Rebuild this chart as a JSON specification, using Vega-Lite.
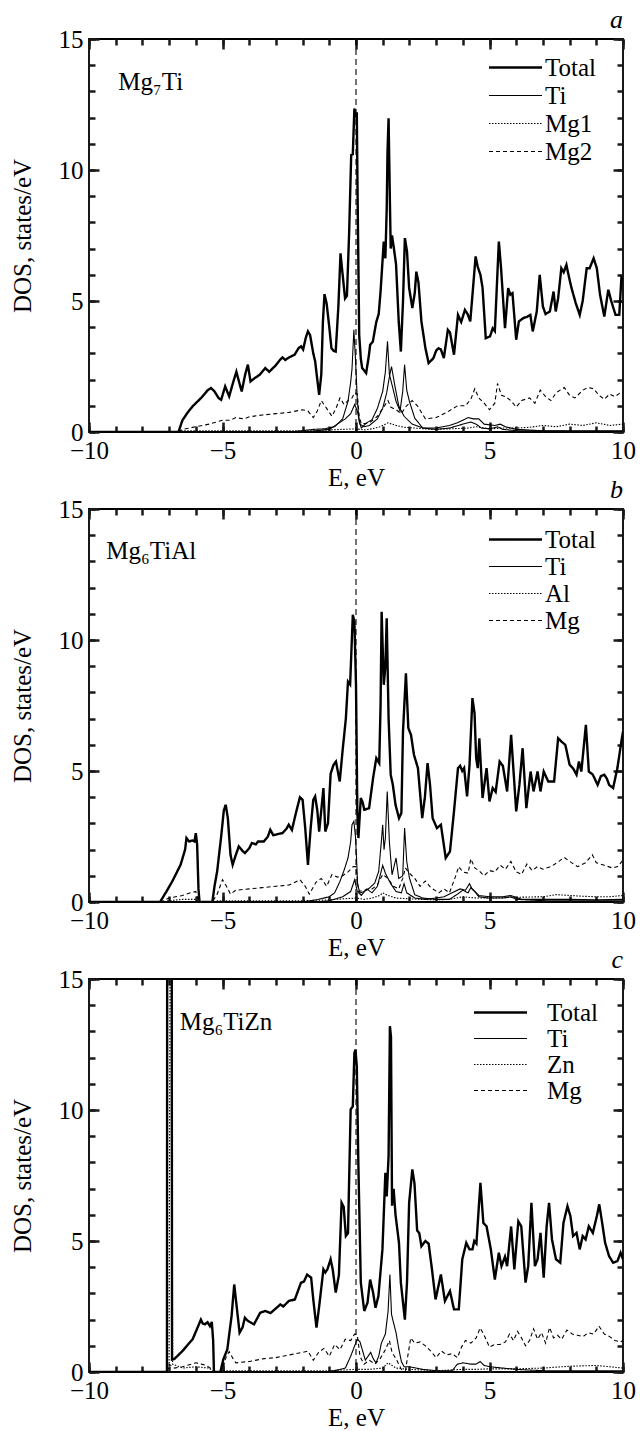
{
  "$schema": "https://vega.github.io/schema/vega-lite/v6.json",
  "padding": {"left": 9, "top": 6, "right": 0, "bottom": 0},
  "background": "white",
  "spacing": -15,
  "config": {
    "view": {"stroke": "black", "strokeWidth": 1.8},
    "font": "Liberation Serif",
    "legend": {"labelFont": "Liberation Serif", "labelColor": "black"},
    "axis": {"labelFont": "Liberation Serif", "titleFont": "Liberation Serif", "labelColor": "black", "titleColor": "black", "ticks": true, "tickColor": "#1a1a1a", "tickOpacity": 1, "tickWidth": 2.5, "domain": false, "grid": false}
  },
  "resolve": {"scale": {"strokeDash": "independent"}, "legend": {"strokeDash": "independent"}},
  "datasets": {
    "a": [
      {"series":"Total","E":-10,"DOS":0},{"series":"Total","E":-6.65,"DOS":0},{"series":"Total","E":-6.5,"DOS":0.45},{"series":"Total","E":-6.3,"DOS":0.75},{"series":"Total","E":-6.12,"DOS":0.98},{"series":"Total","E":-5.8,"DOS":1.3},{"series":"Total","E":-5.55,"DOS":1.6},{"series":"Total","E":-5.43,"DOS":1.68},{"series":"Total","E":-5.3,"DOS":1.55},{"series":"Total","E":-5.15,"DOS":1.3},{"series":"Total","E":-5.05,"DOS":1.23},{"series":"Total","E":-4.9,"DOS":1.74},{"series":"Total","E":-4.75,"DOS":1.36},{"series":"Total","E":-4.6,"DOS":1.9},{"series":"Total","E":-4.48,"DOS":2.3},{"series":"Total","E":-4.35,"DOS":1.8},{"series":"Total","E":-4.28,"DOS":1.55},{"series":"Total","E":-4.15,"DOS":2.2},{"series":"Total","E":-4.05,"DOS":2.57},{"series":"Total","E":-3.95,"DOS":1.93},{"series":"Total","E":-3.8,"DOS":2.05},{"series":"Total","E":-3.6,"DOS":2.19},{"series":"Total","E":-3.4,"DOS":2.44},{"series":"Total","E":-3.25,"DOS":2.3},{"series":"Total","E":-3.0,"DOS":2.55},{"series":"Total","E":-2.85,"DOS":2.75},{"series":"Total","E":-2.75,"DOS":2.85},{"series":"Total","E":-2.65,"DOS":2.75},{"series":"Total","E":-2.5,"DOS":2.85},{"series":"Total","E":-2.3,"DOS":2.95},{"series":"Total","E":-2.15,"DOS":3.2},{"series":"Total","E":-2.06,"DOS":3.27},{"series":"Total","E":-1.98,"DOS":3.15},{"series":"Total","E":-1.88,"DOS":3.6},{"series":"Total","E":-1.8,"DOS":3.84},{"series":"Total","E":-1.72,"DOS":3.7},{"series":"Total","E":-1.6,"DOS":3.0},{"series":"Total","E":-1.53,"DOS":2.7},{"series":"Total","E":-1.45,"DOS":2.0},{"series":"Total","E":-1.38,"DOS":1.42},{"series":"Total","E":-1.3,"DOS":2.2},{"series":"Total","E":-1.24,"DOS":4.2},{"series":"Total","E":-1.18,"DOS":5.26},{"series":"Total","E":-1.1,"DOS":4.9},{"series":"Total","E":-1.0,"DOS":4.0},{"series":"Total","E":-0.92,"DOS":3.2},{"series":"Total","E":-0.84,"DOS":3.1},{"series":"Total","E":-0.76,"DOS":3.07},{"series":"Total","E":-0.66,"DOS":4.8},{"series":"Total","E":-0.58,"DOS":6.82},{"series":"Total","E":-0.5,"DOS":6.0},{"series":"Total","E":-0.41,"DOS":5.1},{"series":"Total","E":-0.34,"DOS":5.2},{"series":"Total","E":-0.26,"DOS":7.5},{"series":"Total","E":-0.18,"DOS":10.57},{"series":"Total","E":-0.12,"DOS":10.6},{"series":"Total","E":-0.06,"DOS":12.35},{"series":"Total","E":-0.01,"DOS":12.0},{"series":"Total","E":0.03,"DOS":12.2},{"series":"Total","E":0.06,"DOS":9.0},{"series":"Total","E":0.12,"DOS":3.7},{"series":"Total","E":0.18,"DOS":2.8},{"series":"Total","E":0.23,"DOS":2.44},{"series":"Total","E":0.38,"DOS":2.25},{"series":"Total","E":0.48,"DOS":2.9},{"series":"Total","E":0.53,"DOS":3.33},{"series":"Total","E":0.63,"DOS":3.45},{"series":"Total","E":0.76,"DOS":4.2},{"series":"Total","E":0.85,"DOS":4.5},{"series":"Total","E":0.92,"DOS":5.36},{"series":"Total","E":1.04,"DOS":7.27},{"series":"Total","E":1.1,"DOS":6.63},{"series":"Total","E":1.15,"DOS":8.5},{"series":"Total","E":1.18,"DOS":10.7},{"series":"Total","E":1.22,"DOS":11.97},{"series":"Total","E":1.27,"DOS":8.8},{"series":"Total","E":1.3,"DOS":7.0},{"series":"Total","E":1.35,"DOS":7.5},{"series":"Total","E":1.42,"DOS":7.0},{"series":"Total","E":1.5,"DOS":6.4},{"series":"Total","E":1.6,"DOS":4.22},{"series":"Total","E":1.68,"DOS":3.07},{"series":"Total","E":1.76,"DOS":4.98},{"series":"Total","E":1.83,"DOS":7.4},{"series":"Total","E":1.91,"DOS":6.9},{"series":"Total","E":1.99,"DOS":5.5},{"series":"Total","E":2.11,"DOS":4.73},{"series":"Total","E":2.2,"DOS":5.3},{"series":"Total","E":2.26,"DOS":6.12},{"series":"Total","E":2.34,"DOS":5.7},{"series":"Total","E":2.45,"DOS":4.22},{"series":"Total","E":2.6,"DOS":3.2},{"series":"Total","E":2.72,"DOS":2.63},{"series":"Total","E":2.9,"DOS":2.82},{"series":"Total","E":3.0,"DOS":3.1},{"series":"Total","E":3.09,"DOS":3.2},{"series":"Total","E":3.18,"DOS":3.15},{"series":"Total","E":3.29,"DOS":2.82},{"series":"Total","E":3.44,"DOS":3.9},{"series":"Total","E":3.52,"DOS":3.8},{"series":"Total","E":3.67,"DOS":2.95},{"series":"Total","E":3.82,"DOS":4.47},{"series":"Total","E":3.94,"DOS":4.2},{"series":"Total","E":4.08,"DOS":4.66},{"series":"Total","E":4.18,"DOS":4.5},{"series":"Total","E":4.28,"DOS":4.22},{"series":"Total","E":4.48,"DOS":6.7},{"series":"Total","E":4.56,"DOS":6.3},{"series":"Total","E":4.66,"DOS":6.0},{"series":"Total","E":4.74,"DOS":5.5},{"series":"Total","E":4.86,"DOS":3.58},{"series":"Total","E":5.02,"DOS":3.65},{"series":"Total","E":5.12,"DOS":3.96},{"series":"Total","E":5.2,"DOS":3.85},{"series":"Total","E":5.35,"DOS":7.27},{"series":"Total","E":5.43,"DOS":6.3},{"series":"Total","E":5.58,"DOS":3.96},{"series":"Total","E":5.7,"DOS":5.49},{"series":"Total","E":5.78,"DOS":5.24},{"series":"Total","E":5.86,"DOS":5.3},{"series":"Total","E":6.0,"DOS":3.52},{"series":"Total","E":6.1,"DOS":4.22},{"series":"Total","E":6.27,"DOS":4.35},{"series":"Total","E":6.42,"DOS":4.4},{"series":"Total","E":6.53,"DOS":4.47},{"series":"Total","E":6.62,"DOS":3.84},{"series":"Total","E":6.77,"DOS":4.6},{"series":"Total","E":6.88,"DOS":6.0},{"series":"Total","E":7.0,"DOS":4.79},{"series":"Total","E":7.1,"DOS":4.5},{"series":"Total","E":7.26,"DOS":4.6},{"series":"Total","E":7.4,"DOS":5.36},{"series":"Total","E":7.48,"DOS":4.6},{"series":"Total","E":7.57,"DOS":5.1},{"series":"Total","E":7.69,"DOS":6.25},{"series":"Total","E":7.78,"DOS":6.1},{"series":"Total","E":7.88,"DOS":6.38},{"series":"Total","E":7.98,"DOS":5.9},{"series":"Total","E":8.07,"DOS":5.5},{"series":"Total","E":8.23,"DOS":4.92},{"series":"Total","E":8.38,"DOS":4.47},{"series":"Total","E":8.49,"DOS":5.0},{"series":"Total","E":8.64,"DOS":6.25},{"series":"Total","E":8.75,"DOS":6.25},{"series":"Total","E":8.9,"DOS":6.63},{"series":"Total","E":9.02,"DOS":6.25},{"series":"Total","E":9.14,"DOS":5.24},{"series":"Total","E":9.3,"DOS":4.41},{"series":"Total","E":9.45,"DOS":5.43},{"series":"Total","E":9.56,"DOS":5.0},{"series":"Total","E":9.72,"DOS":4.47},{"series":"Total","E":9.86,"DOS":4.47},{"series":"Total","E":9.94,"DOS":5.87},{"series":"Total","E":10,"DOS":5.75},
      {"series":"Ti","E":-10,"DOS":0},{"series":"Ti","E":-2.5,"DOS":0},{"series":"Ti","E":-2,"DOS":0.05},{"series":"Ti","E":-1.6,"DOS":0.1},{"series":"Ti","E":-1.2,"DOS":0.12},{"series":"Ti","E":-0.8,"DOS":0.2},{"series":"Ti","E":-0.5,"DOS":0.5},{"series":"Ti","E":-0.3,"DOS":1.17},{"series":"Ti","E":-0.2,"DOS":1.9},{"series":"Ti","E":-0.15,"DOS":2.4},{"series":"Ti","E":-0.08,"DOS":3.9},{"series":"Ti","E":-0.02,"DOS":2.8},{"series":"Ti","E":0.05,"DOS":1.2},{"series":"Ti","E":0.12,"DOS":0.4},{"series":"Ti","E":0.2,"DOS":0.15},{"series":"Ti","E":0.4,"DOS":0.35},{"series":"Ti","E":0.6,"DOS":0.47},{"series":"Ti","E":0.8,"DOS":0.9},{"series":"Ti","E":1.0,"DOS":1.55},{"series":"Ti","E":1.1,"DOS":2.3},{"series":"Ti","E":1.18,"DOS":3.46},{"series":"Ti","E":1.25,"DOS":2.2},{"series":"Ti","E":1.35,"DOS":1.8},{"series":"Ti","E":1.5,"DOS":1.17},{"series":"Ti","E":1.65,"DOS":0.8},{"series":"Ti","E":1.75,"DOS":1.55},{"series":"Ti","E":1.82,"DOS":2.57},{"series":"Ti","E":1.9,"DOS":1.6},{"series":"Ti","E":2.0,"DOS":1.17},{"series":"Ti","E":2.2,"DOS":0.53},{"series":"Ti","E":2.5,"DOS":0.15},{"series":"Ti","E":3.0,"DOS":0.1},{"series":"Ti","E":3.5,"DOS":0.15},{"series":"Ti","E":4.0,"DOS":0.3},{"series":"Ti","E":4.3,"DOS":0.38},{"series":"Ti","E":4.5,"DOS":0.3},{"series":"Ti","E":4.7,"DOS":0.15},{"series":"Ti","E":5.0,"DOS":0.12},{"series":"Ti","E":5.3,"DOS":0.2},{"series":"Ti","E":5.5,"DOS":0.1},{"series":"Ti","E":6,"DOS":0.05},{"series":"Ti","E":7,"DOS":0.04},{"series":"Ti","E":8,"DOS":0.03},{"series":"Ti","E":9,"DOS":0.03},{"series":"Ti","E":10,"DOS":0.03},
      {"series":"extra","E":-10,"DOS":0},{"series":"extra","E":-2,"DOS":0},{"series":"extra","E":-1.5,"DOS":0.05},{"series":"extra","E":-1.0,"DOS":0.1},{"series":"extra","E":-0.7,"DOS":0.3},{"series":"extra","E":-0.4,"DOS":0.5},{"series":"extra","E":-0.2,"DOS":0.7},{"series":"extra","E":-0.05,"DOS":1.05},{"series":"extra","E":0.05,"DOS":0.8},{"series":"extra","E":0.15,"DOS":0.3},{"series":"extra","E":0.3,"DOS":0.2},{"series":"extra","E":0.5,"DOS":0.25},{"series":"extra","E":0.8,"DOS":0.5},{"series":"extra","E":1.0,"DOS":0.9},{"series":"extra","E":1.15,"DOS":1.5},{"series":"extra","E":1.25,"DOS":2.1},{"series":"extra","E":1.33,"DOS":2.5},{"series":"extra","E":1.45,"DOS":1.8},{"series":"extra","E":1.6,"DOS":1.0},{"series":"extra","E":1.8,"DOS":0.6},{"series":"extra","E":2.1,"DOS":0.3},{"series":"extra","E":2.5,"DOS":0.15},{"series":"extra","E":3.0,"DOS":0.15},{"series":"extra","E":3.5,"DOS":0.25},{"series":"extra","E":3.8,"DOS":0.35},{"series":"extra","E":4.0,"DOS":0.45},{"series":"extra","E":4.2,"DOS":0.55},{"series":"extra","E":4.4,"DOS":0.5},{"series":"extra","E":4.6,"DOS":0.5},{"series":"extra","E":4.8,"DOS":0.3},{"series":"extra","E":5.2,"DOS":0.25},{"series":"extra","E":5.4,"DOS":0.3},{"series":"extra","E":5.6,"DOS":0.2},{"series":"extra","E":6,"DOS":0.1},{"series":"extra","E":7,"DOS":0.05},{"series":"extra","E":8,"DOS":0.05},{"series":"extra","E":9,"DOS":0.05},{"series":"extra","E":10,"DOS":0.05},
      {"series":"Mg1","E":-6.65,"DOS":0},{"series":"Mg1","E":-6.5,"DOS":0.05},{"series":"Mg1","E":-5,"DOS":0.05},{"series":"Mg1","E":-3,"DOS":0.05},{"series":"Mg1","E":-1.5,"DOS":0.05},{"series":"Mg1","E":-1,"DOS":0.08},{"series":"Mg1","E":-0.5,"DOS":0.1},{"series":"Mg1","E":0,"DOS":0.12},{"series":"Mg1","E":0.3,"DOS":0.08},{"series":"Mg1","E":0.6,"DOS":0.12},{"series":"Mg1","E":0.9,"DOS":0.2},{"series":"Mg1","E":1.2,"DOS":0.35},{"series":"Mg1","E":1.5,"DOS":0.25},{"series":"Mg1","E":1.8,"DOS":0.18},{"series":"Mg1","E":2.2,"DOS":0.15},{"series":"Mg1","E":2.8,"DOS":0.1},{"series":"Mg1","E":3.5,"DOS":0.12},{"series":"Mg1","E":4.2,"DOS":0.15},{"series":"Mg1","E":4.5,"DOS":0.2},{"series":"Mg1","E":5,"DOS":0.12},{"series":"Mg1","E":5.5,"DOS":0.15},{"series":"Mg1","E":6,"DOS":0.15},{"series":"Mg1","E":6.5,"DOS":0.18},{"series":"Mg1","E":7,"DOS":0.25},{"series":"Mg1","E":7.5,"DOS":0.2},{"series":"Mg1","E":8,"DOS":0.3},{"series":"Mg1","E":8.5,"DOS":0.25},{"series":"Mg1","E":9,"DOS":0.35},{"series":"Mg1","E":9.5,"DOS":0.25},{"series":"Mg1","E":10,"DOS":0.3},
      {"series":"Mg2","E":-6.65,"DOS":0},{"series":"Mg2","E":-6.5,"DOS":0.1},{"series":"Mg2","E":-6.0,"DOS":0.2},{"series":"Mg2","E":-5.5,"DOS":0.3},{"series":"Mg2","E":-5.0,"DOS":0.45},{"series":"Mg2","E":-4.7,"DOS":0.45},{"series":"Mg2","E":-4.5,"DOS":0.55},{"series":"Mg2","E":-4.2,"DOS":0.5},{"series":"Mg2","E":-4.0,"DOS":0.58},{"series":"Mg2","E":-3.5,"DOS":0.65},{"series":"Mg2","E":-3.0,"DOS":0.7},{"series":"Mg2","E":-2.5,"DOS":0.75},{"series":"Mg2","E":-2.0,"DOS":0.85},{"series":"Mg2","E":-1.8,"DOS":0.8},{"series":"Mg2","E":-1.6,"DOS":0.55},{"series":"Mg2","E":-1.45,"DOS":0.8},{"series":"Mg2","E":-1.3,"DOS":1.2},{"series":"Mg2","E":-1.1,"DOS":0.9},{"series":"Mg2","E":-0.9,"DOS":0.6},{"series":"Mg2","E":-0.75,"DOS":0.9},{"series":"Mg2","E":-0.6,"DOS":1.3},{"series":"Mg2","E":-0.45,"DOS":1.05},{"series":"Mg2","E":-0.3,"DOS":1.2},{"series":"Mg2","E":-0.15,"DOS":1.3},{"series":"Mg2","E":-0.05,"DOS":1.5},{"series":"Mg2","E":0.05,"DOS":1.45},{"series":"Mg2","E":0.12,"DOS":0.6},{"series":"Mg2","E":0.2,"DOS":0.3},{"series":"Mg2","E":0.5,"DOS":0.35},{"series":"Mg2","E":0.8,"DOS":0.6},{"series":"Mg2","E":1.0,"DOS":0.9},{"series":"Mg2","E":1.2,"DOS":1.2},{"series":"Mg2","E":1.3,"DOS":0.95},{"series":"Mg2","E":1.5,"DOS":0.85},{"series":"Mg2","E":1.7,"DOS":0.7},{"series":"Mg2","E":1.85,"DOS":0.95},{"series":"Mg2","E":2.1,"DOS":1.2},{"series":"Mg2","E":2.3,"DOS":1.0},{"series":"Mg2","E":2.6,"DOS":0.5},{"series":"Mg2","E":3.0,"DOS":0.55},{"series":"Mg2","E":3.4,"DOS":0.75},{"series":"Mg2","E":3.8,"DOS":1.0},{"series":"Mg2","E":4.1,"DOS":1.0},{"series":"Mg2","E":4.3,"DOS":1.25},{"series":"Mg2","E":4.45,"DOS":1.65},{"series":"Mg2","E":4.6,"DOS":1.3},{"series":"Mg2","E":4.8,"DOS":1.1},{"series":"Mg2","E":5.0,"DOS":0.85},{"series":"Mg2","E":5.2,"DOS":1.1},{"series":"Mg2","E":5.3,"DOS":1.85},{"series":"Mg2","E":5.45,"DOS":1.4},{"series":"Mg2","E":5.6,"DOS":1.35},{"series":"Mg2","E":5.8,"DOS":1.2},{"series":"Mg2","E":6.0,"DOS":0.95},{"series":"Mg2","E":6.2,"DOS":1.2},{"series":"Mg2","E":6.5,"DOS":1.3},{"series":"Mg2","E":6.7,"DOS":1.1},{"series":"Mg2","E":6.9,"DOS":1.6},{"series":"Mg2","E":7.1,"DOS":1.35},{"series":"Mg2","E":7.3,"DOS":1.2},{"series":"Mg2","E":7.5,"DOS":1.5},{"series":"Mg2","E":7.8,"DOS":1.7},{"series":"Mg2","E":8.0,"DOS":1.4},{"series":"Mg2","E":8.2,"DOS":1.3},{"series":"Mg2","E":8.5,"DOS":1.6},{"series":"Mg2","E":8.7,"DOS":1.7},{"series":"Mg2","E":8.9,"DOS":1.65},{"series":"Mg2","E":9.1,"DOS":1.4},{"series":"Mg2","E":9.3,"DOS":1.25},{"series":"Mg2","E":9.5,"DOS":1.45},{"series":"Mg2","E":9.7,"DOS":1.35},{"series":"Mg2","E":9.9,"DOS":1.5},{"series":"Mg2","E":10,"DOS":1.55}
    ],
    "b": [
      {"series":"Total","E":-10,"DOS":0},{"series":"Total","E":-7.34,"DOS":0},{"series":"Total","E":-7.1,"DOS":0.4},{"series":"Total","E":-6.88,"DOS":0.79},{"series":"Total","E":-6.57,"DOS":1.42},{"series":"Total","E":-6.4,"DOS":2.0},{"series":"Total","E":-6.35,"DOS":2.44},{"series":"Total","E":-6.25,"DOS":2.31},{"series":"Total","E":-6.12,"DOS":2.35},{"series":"Total","E":-6.05,"DOS":2.31},{"series":"Total","E":-6.0,"DOS":2.63},{"series":"Total","E":-5.95,"DOS":2.2},{"series":"Total","E":-5.9,"DOS":0.5},{"series":"Total","E":-5.86,"DOS":0},{"series":"Total","E":-5.38,"DOS":0},{"series":"Total","E":-5.3,"DOS":0.6},{"series":"Total","E":-5.2,"DOS":1.17},{"series":"Total","E":-5.05,"DOS":2.5},{"series":"Total","E":-4.95,"DOS":3.5},{"series":"Total","E":-4.88,"DOS":3.71},{"series":"Total","E":-4.8,"DOS":3.2},{"series":"Total","E":-4.7,"DOS":1.8},{"series":"Total","E":-4.62,"DOS":1.42},{"series":"Total","E":-4.5,"DOS":1.8},{"series":"Total","E":-4.39,"DOS":2.12},{"series":"Total","E":-4.25,"DOS":1.95},{"series":"Total","E":-4.16,"DOS":1.87},{"series":"Total","E":-4.0,"DOS":2.05},{"series":"Total","E":-3.9,"DOS":2.25},{"series":"Total","E":-3.75,"DOS":2.2},{"series":"Total","E":-3.67,"DOS":2.31},{"series":"Total","E":-3.45,"DOS":2.31},{"series":"Total","E":-3.3,"DOS":2.5},{"series":"Total","E":-3.21,"DOS":2.76},{"series":"Total","E":-3.1,"DOS":2.55},{"series":"Total","E":-2.9,"DOS":2.6},{"series":"Total","E":-2.75,"DOS":2.63},{"series":"Total","E":-2.6,"DOS":2.8},{"series":"Total","E":-2.52,"DOS":2.95},{"series":"Total","E":-2.4,"DOS":2.75},{"series":"Total","E":-2.25,"DOS":3.4},{"series":"Total","E":-2.1,"DOS":4.0},{"series":"Total","E":-2.0,"DOS":3.9},{"series":"Total","E":-1.9,"DOS":2.8},{"series":"Total","E":-1.8,"DOS":1.42},{"series":"Total","E":-1.7,"DOS":2.8},{"series":"Total","E":-1.6,"DOS":3.9},{"series":"Total","E":-1.53,"DOS":4.03},{"series":"Total","E":-1.45,"DOS":3.5},{"series":"Total","E":-1.38,"DOS":2.69},{"series":"Total","E":-1.3,"DOS":3.5},{"series":"Total","E":-1.22,"DOS":4.35},{"series":"Total","E":-1.15,"DOS":2.69},{"series":"Total","E":-1.05,"DOS":3.0},{"series":"Total","E":-0.95,"DOS":4.9},{"series":"Total","E":-0.84,"DOS":5.24},{"series":"Total","E":-0.75,"DOS":5.36},{"series":"Total","E":-0.61,"DOS":4.6},{"series":"Total","E":-0.5,"DOS":5.8},{"series":"Total","E":-0.38,"DOS":7.0},{"series":"Total","E":-0.3,"DOS":8.41},{"series":"Total","E":-0.22,"DOS":8.3},{"series":"Total","E":-0.12,"DOS":10.96},{"series":"Total","E":-0.06,"DOS":10.7},{"series":"Total","E":0.0,"DOS":8.29},{"series":"Total","E":0.05,"DOS":3.46},{"series":"Total","E":0.09,"DOS":2.44},{"series":"Total","E":0.18,"DOS":3.97},{"series":"Total","E":0.25,"DOS":3.8},{"series":"Total","E":0.31,"DOS":3.52},{"series":"Total","E":0.49,"DOS":3.58},{"series":"Total","E":0.64,"DOS":4.73},{"series":"Total","E":0.76,"DOS":5.49},{"series":"Total","E":0.87,"DOS":5.3},{"series":"Total","E":0.92,"DOS":7.5},{"series":"Total","E":0.96,"DOS":11.08},{"series":"Total","E":1.04,"DOS":8.29},{"series":"Total","E":1.1,"DOS":9.0},{"series":"Total","E":1.15,"DOS":10.83},{"series":"Total","E":1.22,"DOS":7.02},{"series":"Total","E":1.3,"DOS":4.86},{"series":"Total","E":1.38,"DOS":4.47},{"series":"Total","E":1.48,"DOS":3.71},{"series":"Total","E":1.61,"DOS":3.2},{"series":"Total","E":1.7,"DOS":3.4},{"series":"Total","E":1.76,"DOS":6.51},{"series":"Total","E":1.87,"DOS":8.73},{"series":"Total","E":1.96,"DOS":6.64},{"series":"Total","E":2.06,"DOS":6.38},{"series":"Total","E":2.17,"DOS":5.62},{"series":"Total","E":2.32,"DOS":5.11},{"series":"Total","E":2.48,"DOS":3.2},{"series":"Total","E":2.58,"DOS":4.0},{"series":"Total","E":2.68,"DOS":5.3},{"series":"Total","E":2.77,"DOS":4.5},{"series":"Total","E":2.87,"DOS":3.2},{"series":"Total","E":3.03,"DOS":2.82},{"series":"Total","E":3.18,"DOS":2.95},{"series":"Total","E":3.36,"DOS":1.68},{"series":"Total","E":3.52,"DOS":1.93},{"series":"Total","E":3.67,"DOS":3.46},{"series":"Total","E":3.82,"DOS":5.11},{"series":"Total","E":3.9,"DOS":5.2},{"series":"Total","E":3.98,"DOS":5.0},{"series":"Total","E":4.05,"DOS":5.11},{"series":"Total","E":4.16,"DOS":4.03},{"series":"Total","E":4.25,"DOS":5.2},{"series":"Total","E":4.36,"DOS":7.78},{"series":"Total","E":4.44,"DOS":7.2},{"series":"Total","E":4.5,"DOS":5.5},{"series":"Total","E":4.56,"DOS":5.11},{"series":"Total","E":4.62,"DOS":6.25},{"series":"Total","E":4.74,"DOS":3.97},{"series":"Total","E":4.89,"DOS":5.11},{"series":"Total","E":5.0,"DOS":3.84},{"series":"Total","E":5.12,"DOS":4.35},{"series":"Total","E":5.23,"DOS":4.2},{"series":"Total","E":5.38,"DOS":5.36},{"series":"Total","E":5.5,"DOS":5.2},{"series":"Total","E":5.66,"DOS":4.22},{"series":"Total","E":5.81,"DOS":6.38},{"series":"Total","E":6.0,"DOS":3.46},{"series":"Total","E":6.12,"DOS":4.47},{"series":"Total","E":6.24,"DOS":5.87},{"series":"Total","E":6.38,"DOS":3.58},{"series":"Total","E":6.54,"DOS":4.98},{"series":"Total","E":6.65,"DOS":4.22},{"series":"Total","E":6.8,"DOS":4.98},{"series":"Total","E":6.91,"DOS":4.22},{"series":"Total","E":7.03,"DOS":4.98},{"series":"Total","E":7.2,"DOS":4.6},{"series":"Total","E":7.42,"DOS":4.6},{"series":"Total","E":7.57,"DOS":6.25},{"series":"Total","E":7.72,"DOS":6.1},{"series":"Total","E":7.84,"DOS":6.0},{"series":"Total","E":8.0,"DOS":5.24},{"series":"Total","E":8.13,"DOS":5.1},{"series":"Total","E":8.26,"DOS":4.86},{"series":"Total","E":8.35,"DOS":5.36},{"series":"Total","E":8.44,"DOS":4.98},{"series":"Total","E":8.61,"DOS":6.76},{"series":"Total","E":8.72,"DOS":4.98},{"series":"Total","E":8.87,"DOS":4.86},{"series":"Total","E":9.05,"DOS":4.47},{"series":"Total","E":9.17,"DOS":4.8},{"series":"Total","E":9.3,"DOS":4.86},{"series":"Total","E":9.4,"DOS":4.7},{"series":"Total","E":9.48,"DOS":4.47},{"series":"Total","E":9.63,"DOS":4.35},{"series":"Total","E":9.79,"DOS":5.11},{"series":"Total","E":9.94,"DOS":6.13},{"series":"Total","E":10,"DOS":6.51},
      {"series":"Ti","E":-10,"DOS":0},{"series":"Ti","E":-2.0,"DOS":0},{"series":"Ti","E":-1.5,"DOS":0.08},{"series":"Ti","E":-1.0,"DOS":0.2},{"series":"Ti","E":-0.8,"DOS":0.35},{"series":"Ti","E":-0.6,"DOS":0.79},{"series":"Ti","E":-0.45,"DOS":1.2},{"series":"Ti","E":-0.3,"DOS":1.68},{"series":"Ti","E":-0.2,"DOS":2.3},{"series":"Ti","E":-0.15,"DOS":2.95},{"series":"Ti","E":-0.08,"DOS":3.08},{"series":"Ti","E":-0.02,"DOS":2.5},{"series":"Ti","E":0.02,"DOS":1.68},{"series":"Ti","E":0.06,"DOS":0.66},{"series":"Ti","E":0.15,"DOS":0.34},{"series":"Ti","E":0.3,"DOS":0.4},{"series":"Ti","E":0.5,"DOS":0.53},{"series":"Ti","E":0.7,"DOS":0.72},{"series":"Ti","E":0.85,"DOS":1.17},{"series":"Ti","E":0.95,"DOS":2.31},{"series":"Ti","E":1.0,"DOS":2.95},{"series":"Ti","E":1.05,"DOS":2.0},{"series":"Ti","E":1.1,"DOS":2.44},{"series":"Ti","E":1.17,"DOS":4.22},{"series":"Ti","E":1.25,"DOS":2.3},{"series":"Ti","E":1.35,"DOS":1.04},{"series":"Ti","E":1.5,"DOS":1.68},{"series":"Ti","E":1.6,"DOS":0.9},{"series":"Ti","E":1.75,"DOS":1.0},{"series":"Ti","E":1.82,"DOS":2.82},{"series":"Ti","E":1.9,"DOS":1.55},{"series":"Ti","E":2.0,"DOS":0.92},{"series":"Ti","E":2.2,"DOS":0.28},{"series":"Ti","E":2.5,"DOS":0.15},{"series":"Ti","E":3.0,"DOS":0.1},{"series":"Ti","E":3.5,"DOS":0.1},{"series":"Ti","E":3.8,"DOS":0.3},{"series":"Ti","E":4.0,"DOS":0.45},{"series":"Ti","E":4.2,"DOS":0.35},{"series":"Ti","E":4.3,"DOS":0.55},{"series":"Ti","E":4.45,"DOS":0.4},{"series":"Ti","E":4.6,"DOS":0.2},{"series":"Ti","E":5.0,"DOS":0.15},{"series":"Ti","E":5.5,"DOS":0.15},{"series":"Ti","E":5.8,"DOS":0.2},{"series":"Ti","E":6.0,"DOS":0.1},{"series":"Ti","E":7,"DOS":0.05},{"series":"Ti","E":8,"DOS":0.05},{"series":"Ti","E":9,"DOS":0.05},{"series":"Ti","E":10,"DOS":0.05},
      {"series":"extra","E":-10,"DOS":0},{"series":"extra","E":-1.5,"DOS":0},{"series":"extra","E":-1.0,"DOS":0.05},{"series":"extra","E":-0.5,"DOS":0.2},{"series":"extra","E":-0.2,"DOS":0.4},{"series":"extra","E":-0.05,"DOS":0.85},{"series":"extra","E":0.05,"DOS":0.4},{"series":"extra","E":0.2,"DOS":0.25},{"series":"extra","E":0.4,"DOS":0.5},{"series":"extra","E":0.6,"DOS":0.35},{"series":"extra","E":0.8,"DOS":0.6},{"series":"extra","E":0.95,"DOS":1.2},{"series":"extra","E":1.0,"DOS":1.4},{"series":"extra","E":1.1,"DOS":1.1},{"series":"extra","E":1.3,"DOS":0.7},{"series":"extra","E":1.5,"DOS":0.4},{"series":"extra","E":1.7,"DOS":0.35},{"series":"extra","E":1.8,"DOS":0.7},{"series":"extra","E":1.9,"DOS":0.35},{"series":"extra","E":2.2,"DOS":0.15},{"series":"extra","E":2.6,"DOS":0.1},{"series":"extra","E":3.0,"DOS":0.15},{"series":"extra","E":3.3,"DOS":0.2},{"series":"extra","E":3.6,"DOS":0.35},{"series":"extra","E":3.9,"DOS":0.5},{"series":"extra","E":4.1,"DOS":0.45},{"series":"extra","E":4.25,"DOS":0.7},{"series":"extra","E":4.35,"DOS":0.5},{"series":"extra","E":4.6,"DOS":0.25},{"series":"extra","E":5.0,"DOS":0.2},{"series":"extra","E":5.5,"DOS":0.2},{"series":"extra","E":5.8,"DOS":0.25},{"series":"extra","E":6.2,"DOS":0.1},{"series":"extra","E":7,"DOS":0.1},{"series":"extra","E":8,"DOS":0.1},{"series":"extra","E":9,"DOS":0.08},{"series":"extra","E":10,"DOS":0.1},
      {"series":"Al","E":-7.3,"DOS":0},{"series":"Al","E":-7.0,"DOS":0.05},{"series":"Al","E":-6.5,"DOS":0.1},{"series":"Al","E":-6.0,"DOS":0.1},{"series":"Al","E":-5.9,"DOS":0},{"series":"Al","E":-5.4,"DOS":0},{"series":"Al","E":-5.2,"DOS":0.05},{"series":"Al","E":-4,"DOS":0.05},{"series":"Al","E":-2,"DOS":0.05},{"series":"Al","E":-1,"DOS":0.08},{"series":"Al","E":-0.5,"DOS":0.12},{"series":"Al","E":0,"DOS":0.15},{"series":"Al","E":0.3,"DOS":0.1},{"series":"Al","E":0.6,"DOS":0.15},{"series":"Al","E":0.9,"DOS":0.25},{"series":"Al","E":1.0,"DOS":0.35},{"series":"Al","E":1.2,"DOS":0.25},{"series":"Al","E":1.5,"DOS":0.15},{"series":"Al","E":2,"DOS":0.12},{"series":"Al","E":2.5,"DOS":0.1},{"series":"Al","E":3,"DOS":0.08},{"series":"Al","E":3.5,"DOS":0.1},{"series":"Al","E":4,"DOS":0.2},{"series":"Al","E":4.5,"DOS":0.15},{"series":"Al","E":5,"DOS":0.15},{"series":"Al","E":6,"DOS":0.18},{"series":"Al","E":7,"DOS":0.2},{"series":"Al","E":7.5,"DOS":0.28},{"series":"Al","E":8,"DOS":0.25},{"series":"Al","E":8.5,"DOS":0.22},{"series":"Al","E":9,"DOS":0.2},{"series":"Al","E":9.5,"DOS":0.2},{"series":"Al","E":10,"DOS":0.25},
      {"series":"Mg","E":-7.34,"DOS":0},{"series":"Mg","E":-7.0,"DOS":0.15},{"series":"Mg","E":-6.5,"DOS":0.25},{"series":"Mg","E":-6.2,"DOS":0.35},{"series":"Mg","E":-6.0,"DOS":0.4},{"series":"Mg","E":-5.92,"DOS":0.1},{"series":"Mg","E":-5.86,"DOS":0},{"series":"Mg","E":-5.38,"DOS":0},{"series":"Mg","E":-5.2,"DOS":0.3},{"series":"Mg","E":-5.0,"DOS":0.85},{"series":"Mg","E":-4.85,"DOS":0.6},{"series":"Mg","E":-4.7,"DOS":0.3},{"series":"Mg","E":-4.5,"DOS":0.45},{"series":"Mg","E":-4.0,"DOS":0.5},{"series":"Mg","E":-3.5,"DOS":0.55},{"series":"Mg","E":-3.0,"DOS":0.6},{"series":"Mg","E":-2.5,"DOS":0.65},{"series":"Mg","E":-2.1,"DOS":0.85},{"series":"Mg","E":-1.9,"DOS":0.6},{"series":"Mg","E":-1.75,"DOS":0.3},{"series":"Mg","E":-1.5,"DOS":0.75},{"series":"Mg","E":-1.3,"DOS":0.9},{"series":"Mg","E":-1.1,"DOS":0.6},{"series":"Mg","E":-0.9,"DOS":1.05},{"series":"Mg","E":-0.7,"DOS":0.95},{"series":"Mg","E":-0.5,"DOS":1.0},{"series":"Mg","E":-0.3,"DOS":1.15},{"series":"Mg","E":-0.1,"DOS":1.35},{"series":"Mg","E":0.0,"DOS":1.35},{"series":"Mg","E":0.1,"DOS":0.4},{"series":"Mg","E":0.3,"DOS":0.45},{"series":"Mg","E":0.6,"DOS":0.5},{"series":"Mg","E":0.8,"DOS":0.65},{"series":"Mg","E":1.0,"DOS":1.05},{"series":"Mg","E":1.2,"DOS":0.9},{"series":"Mg","E":1.4,"DOS":0.6},{"series":"Mg","E":1.6,"DOS":0.5},{"series":"Mg","E":1.75,"DOS":0.9},{"series":"Mg","E":1.85,"DOS":1.3},{"series":"Mg","E":2.0,"DOS":1.1},{"series":"Mg","E":2.2,"DOS":0.9},{"series":"Mg","E":2.4,"DOS":0.6},{"series":"Mg","E":2.6,"DOS":0.8},{"series":"Mg","E":2.8,"DOS":0.55},{"series":"Mg","E":3.1,"DOS":0.35},{"series":"Mg","E":3.3,"DOS":0.5},{"series":"Mg","E":3.5,"DOS":0.35},{"series":"Mg","E":3.7,"DOS":0.9},{"series":"Mg","E":3.85,"DOS":1.35},{"series":"Mg","E":4.0,"DOS":1.15},{"series":"Mg","E":4.2,"DOS":1.1},{"series":"Mg","E":4.3,"DOS":1.65},{"series":"Mg","E":4.45,"DOS":1.3},{"series":"Mg","E":4.6,"DOS":1.2},{"series":"Mg","E":4.8,"DOS":1.0},{"series":"Mg","E":5.0,"DOS":1.2},{"series":"Mg","E":5.2,"DOS":1.15},{"series":"Mg","E":5.4,"DOS":1.4},{"series":"Mg","E":5.6,"DOS":1.25},{"series":"Mg","E":5.8,"DOS":1.55},{"series":"Mg","E":6.0,"DOS":1.15},{"series":"Mg","E":6.2,"DOS":1.05},{"series":"Mg","E":6.4,"DOS":1.45},{"series":"Mg","E":6.6,"DOS":1.2},{"series":"Mg","E":6.8,"DOS":1.35},{"series":"Mg","E":7.0,"DOS":1.25},{"series":"Mg","E":7.3,"DOS":1.35},{"series":"Mg","E":7.6,"DOS":1.55},{"series":"Mg","E":7.8,"DOS":1.7},{"series":"Mg","E":8.0,"DOS":1.55},{"series":"Mg","E":8.3,"DOS":1.35},{"series":"Mg","E":8.6,"DOS":1.5},{"series":"Mg","E":8.85,"DOS":1.8},{"series":"Mg","E":9.0,"DOS":1.5},{"series":"Mg","E":9.3,"DOS":1.4},{"series":"Mg","E":9.6,"DOS":1.3},{"series":"Mg","E":9.8,"DOS":1.35},{"series":"Mg","E":10,"DOS":1.6}
    ],
    "c": [
      {"series":"Total","E":-10,"DOS":0},{"series":"Total","E":-7.08,"DOS":0},{"series":"Total","E":-7.06,"DOS":40},{"series":"Total","E":-6.92,"DOS":40},{"series":"Total","E":-6.89,"DOS":0.48},{"series":"Total","E":-6.8,"DOS":0.5},{"series":"Total","E":-6.5,"DOS":0.8},{"series":"Total","E":-6.12,"DOS":1.25},{"series":"Total","E":-5.96,"DOS":1.63},{"series":"Total","E":-5.81,"DOS":2.0},{"series":"Total","E":-5.74,"DOS":1.85},{"series":"Total","E":-5.66,"DOS":1.82},{"series":"Total","E":-5.56,"DOS":1.9},{"series":"Total","E":-5.47,"DOS":1.75},{"series":"Total","E":-5.4,"DOS":1.91},{"series":"Total","E":-5.35,"DOS":1.2},{"series":"Total","E":-5.32,"DOS":0},{"series":"Total","E":-5.08,"DOS":0},{"series":"Total","E":-4.97,"DOS":0.48},{"series":"Total","E":-4.82,"DOS":0.86},{"series":"Total","E":-4.66,"DOS":2.14},{"series":"Total","E":-4.56,"DOS":3.34},{"series":"Total","E":-4.48,"DOS":2.6},{"series":"Total","E":-4.36,"DOS":1.5},{"series":"Total","E":-4.25,"DOS":1.7},{"series":"Total","E":-4.16,"DOS":2.07},{"series":"Total","E":-4.05,"DOS":1.95},{"series":"Total","E":-3.82,"DOS":1.82},{"series":"Total","E":-3.59,"DOS":2.26},{"series":"Total","E":-3.4,"DOS":2.33},{"series":"Total","E":-3.2,"DOS":2.25},{"series":"Total","E":-2.83,"DOS":2.58},{"series":"Total","E":-2.72,"DOS":2.5},{"series":"Total","E":-2.52,"DOS":2.71},{"series":"Total","E":-2.29,"DOS":2.77},{"series":"Total","E":-2.06,"DOS":3.41},{"series":"Total","E":-1.95,"DOS":3.45},{"series":"Total","E":-1.83,"DOS":3.72},{"series":"Total","E":-1.68,"DOS":3.6},{"series":"Total","E":-1.6,"DOS":2.77},{"series":"Total","E":-1.48,"DOS":1.69},{"series":"Total","E":-1.38,"DOS":2.5},{"series":"Total","E":-1.22,"DOS":3.92},{"series":"Total","E":-1.15,"DOS":3.8},{"series":"Total","E":-1.07,"DOS":3.92},{"series":"Total","E":-0.95,"DOS":4.3},{"series":"Total","E":-0.87,"DOS":3.9},{"series":"Total","E":-0.76,"DOS":3.03},{"series":"Total","E":-0.64,"DOS":3.7},{"series":"Total","E":-0.54,"DOS":6.46},{"series":"Total","E":-0.46,"DOS":6.3},{"series":"Total","E":-0.38,"DOS":5.19},{"series":"Total","E":-0.3,"DOS":5.3},{"series":"Total","E":-0.2,"DOS":10.02},{"series":"Total","E":-0.12,"DOS":10.14},{"series":"Total","E":-0.06,"DOS":12.18},{"series":"Total","E":-0.02,"DOS":12.3},{"series":"Total","E":0.03,"DOS":11.67},{"series":"Total","E":0.09,"DOS":7.86},{"series":"Total","E":0.18,"DOS":3.41},{"series":"Total","E":0.31,"DOS":2.33},{"series":"Total","E":0.43,"DOS":2.64},{"series":"Total","E":0.53,"DOS":3.53},{"series":"Total","E":0.64,"DOS":3.03},{"series":"Total","E":0.73,"DOS":2.45},{"series":"Total","E":0.84,"DOS":2.9},{"series":"Total","E":0.99,"DOS":4.68},{"series":"Total","E":1.1,"DOS":7.6},{"series":"Total","E":1.15,"DOS":6.7},{"series":"Total","E":1.22,"DOS":8.24},{"series":"Total","E":1.27,"DOS":13.2},{"series":"Total","E":1.31,"DOS":12.8},{"series":"Total","E":1.35,"DOS":6.35},{"series":"Total","E":1.41,"DOS":6.99},{"series":"Total","E":1.48,"DOS":6.0},{"series":"Total","E":1.61,"DOS":4.93},{"series":"Total","E":1.68,"DOS":3.41},{"series":"Total","E":1.83,"DOS":2.0},{"series":"Total","E":1.91,"DOS":3.41},{"series":"Total","E":1.99,"DOS":6.46},{"series":"Total","E":2.11,"DOS":7.73},{"series":"Total","E":2.19,"DOS":7.2},{"series":"Total","E":2.29,"DOS":5.4},{"series":"Total","E":2.37,"DOS":5.3},{"series":"Total","E":2.45,"DOS":4.8},{"series":"Total","E":2.6,"DOS":5.0},{"series":"Total","E":2.72,"DOS":4.9},{"series":"Total","E":2.83,"DOS":4.04},{"series":"Total","E":2.98,"DOS":2.77},{"series":"Total","E":3.18,"DOS":3.72},{"series":"Total","E":3.33,"DOS":2.71},{"series":"Total","E":3.52,"DOS":3.09},{"series":"Total","E":3.67,"DOS":2.39},{"series":"Total","E":3.85,"DOS":2.39},{"series":"Total","E":3.98,"DOS":4.3},{"series":"Total","E":4.13,"DOS":4.93},{"series":"Total","E":4.25,"DOS":4.68},{"series":"Total","E":4.36,"DOS":4.68},{"series":"Total","E":4.43,"DOS":5.0},{"series":"Total","E":4.51,"DOS":4.9},{"series":"Total","E":4.66,"DOS":7.22},{"series":"Total","E":4.77,"DOS":5.69},{"series":"Total","E":4.89,"DOS":5.56},{"series":"Total","E":5.05,"DOS":4.68},{"series":"Total","E":5.2,"DOS":3.53},{"series":"Total","E":5.35,"DOS":4.55},{"series":"Total","E":5.45,"DOS":4.04},{"series":"Total","E":5.58,"DOS":4.4},{"series":"Total","E":5.66,"DOS":4.04},{"series":"Total","E":5.81,"DOS":5.56},{"series":"Total","E":5.93,"DOS":3.92},{"series":"Total","E":6.08,"DOS":5.75},{"series":"Total","E":6.19,"DOS":5.56},{"series":"Total","E":6.35,"DOS":3.41},{"series":"Total","E":6.45,"DOS":4.04},{"series":"Total","E":6.57,"DOS":6.46},{"series":"Total","E":6.7,"DOS":4.04},{"series":"Total","E":6.8,"DOS":4.3},{"series":"Total","E":6.91,"DOS":5.31},{"series":"Total","E":7.03,"DOS":3.6},{"series":"Total","E":7.14,"DOS":5.56},{"series":"Total","E":7.23,"DOS":6.46},{"series":"Total","E":7.34,"DOS":5.06},{"series":"Total","E":7.49,"DOS":4.3},{"series":"Total","E":7.65,"DOS":4.17},{"series":"Total","E":7.77,"DOS":5.69},{"series":"Total","E":7.92,"DOS":6.33},{"series":"Total","E":8.03,"DOS":5.95},{"series":"Total","E":8.13,"DOS":5.19},{"series":"Total","E":8.26,"DOS":5.31},{"series":"Total","E":8.38,"DOS":4.68},{"series":"Total","E":8.49,"DOS":5.19},{"series":"Total","E":8.6,"DOS":5.06},{"series":"Total","E":8.72,"DOS":5.56},{"series":"Total","E":8.87,"DOS":5.31},{"series":"Total","E":9.02,"DOS":5.95},{"series":"Total","E":9.11,"DOS":6.4},{"series":"Total","E":9.22,"DOS":5.69},{"series":"Total","E":9.33,"DOS":4.93},{"series":"Total","E":9.48,"DOS":4.42},{"series":"Total","E":9.63,"DOS":4.17},{"series":"Total","E":9.79,"DOS":4.23},{"series":"Total","E":9.91,"DOS":4.55},{"series":"Total","E":10,"DOS":4.3},
      {"series":"Ti","E":-10,"DOS":0},{"series":"Ti","E":-1.2,"DOS":0},{"series":"Ti","E":-0.8,"DOS":0.05},{"series":"Ti","E":-0.6,"DOS":0.1},{"series":"Ti","E":-0.4,"DOS":0.15},{"series":"Ti","E":-0.2,"DOS":0.6},{"series":"Ti","E":-0.05,"DOS":1.0},{"series":"Ti","E":0.05,"DOS":1.25},{"series":"Ti","E":0.15,"DOS":1.15},{"series":"Ti","E":0.25,"DOS":0.8},{"series":"Ti","E":0.35,"DOS":0.45},{"series":"Ti","E":0.45,"DOS":0.6},{"series":"Ti","E":0.55,"DOS":0.75},{"series":"Ti","E":0.65,"DOS":0.5},{"series":"Ti","E":0.75,"DOS":0.35},{"series":"Ti","E":0.85,"DOS":0.6},{"series":"Ti","E":0.95,"DOS":1.1},{"series":"Ti","E":1.1,"DOS":1.45},{"series":"Ti","E":1.2,"DOS":2.3},{"series":"Ti","E":1.27,"DOS":3.72},{"series":"Ti","E":1.33,"DOS":2.2},{"series":"Ti","E":1.4,"DOS":1.9},{"series":"Ti","E":1.5,"DOS":1.5},{"series":"Ti","E":1.6,"DOS":0.9},{"series":"Ti","E":1.7,"DOS":0.4},{"series":"Ti","E":1.8,"DOS":0.2},{"series":"Ti","E":2.0,"DOS":0.2},{"series":"Ti","E":2.5,"DOS":0.1},{"series":"Ti","E":3.0,"DOS":0.05},{"series":"Ti","E":3.6,"DOS":0.05},{"series":"Ti","E":3.8,"DOS":0.3},{"series":"Ti","E":4.0,"DOS":0.35},{"series":"Ti","E":4.3,"DOS":0.3},{"series":"Ti","E":4.5,"DOS":0.3},{"series":"Ti","E":4.65,"DOS":0.4},{"series":"Ti","E":4.8,"DOS":0.25},{"series":"Ti","E":5.0,"DOS":0.2},{"series":"Ti","E":5.5,"DOS":0.15},{"series":"Ti","E":6.0,"DOS":0.1},{"series":"Ti","E":7,"DOS":0.05},{"series":"Ti","E":8,"DOS":0.05},{"series":"Ti","E":10,"DOS":0.05},
      {"series":"Zn","E":-7.08,"DOS":0},{"series":"Zn","E":-7.0,"DOS":0.2},{"series":"Zn","E":-6.91,"DOS":40},{"series":"Zn","E":-6.87,"DOS":0.3},{"series":"Zn","E":-6.5,"DOS":0.15},{"series":"Zn","E":-6,"DOS":0.2},{"series":"Zn","E":-5.5,"DOS":0.15},{"series":"Zn","E":-5.32,"DOS":0},{"series":"Zn","E":-5.08,"DOS":0},{"series":"Zn","E":-5.0,"DOS":0.05},{"series":"Zn","E":-4,"DOS":0.05},{"series":"Zn","E":-2,"DOS":0.05},{"series":"Zn","E":-1,"DOS":0.05},{"series":"Zn","E":0,"DOS":0.1},{"series":"Zn","E":0.5,"DOS":0.1},{"series":"Zn","E":1.0,"DOS":0.15},{"series":"Zn","E":1.2,"DOS":0.35},{"series":"Zn","E":1.5,"DOS":0.15},{"series":"Zn","E":2,"DOS":0.1},{"series":"Zn","E":3,"DOS":0.05},{"series":"Zn","E":4,"DOS":0.1},{"series":"Zn","E":4.5,"DOS":0.1},{"series":"Zn","E":5,"DOS":0.12},{"series":"Zn","E":6,"DOS":0.12},{"series":"Zn","E":7,"DOS":0.15},{"series":"Zn","E":8,"DOS":0.22},{"series":"Zn","E":9,"DOS":0.25},{"series":"Zn","E":9.5,"DOS":0.2},{"series":"Zn","E":10,"DOS":0.15},
      {"series":"Mg","E":-7.08,"DOS":0},{"series":"Mg","E":-7.0,"DOS":0.3},{"series":"Mg","E":-6.8,"DOS":0.15},{"series":"Mg","E":-6.5,"DOS":0.2},{"series":"Mg","E":-6.0,"DOS":0.35},{"series":"Mg","E":-5.8,"DOS":0.3},{"series":"Mg","E":-5.6,"DOS":0.25},{"series":"Mg","E":-5.4,"DOS":0.1},{"series":"Mg","E":-5.32,"DOS":0},{"series":"Mg","E":-5.08,"DOS":0},{"series":"Mg","E":-5.0,"DOS":0.2},{"series":"Mg","E":-4.85,"DOS":0.6},{"series":"Mg","E":-4.75,"DOS":0.78},{"series":"Mg","E":-4.6,"DOS":0.5},{"series":"Mg","E":-4.5,"DOS":0.35},{"series":"Mg","E":-4.0,"DOS":0.4},{"series":"Mg","E":-3.5,"DOS":0.5},{"series":"Mg","E":-3.0,"DOS":0.55},{"series":"Mg","E":-2.5,"DOS":0.65},{"series":"Mg","E":-2.0,"DOS":0.75},{"series":"Mg","E":-1.8,"DOS":0.8},{"series":"Mg","E":-1.6,"DOS":0.45},{"series":"Mg","E":-1.4,"DOS":0.75},{"series":"Mg","E":-1.2,"DOS":0.9},{"series":"Mg","E":-1.0,"DOS":0.6},{"series":"Mg","E":-0.8,"DOS":1.05},{"series":"Mg","E":-0.6,"DOS":0.85},{"series":"Mg","E":-0.4,"DOS":1.25},{"series":"Mg","E":-0.2,"DOS":1.2},{"series":"Mg","E":-0.05,"DOS":1.45},{"series":"Mg","E":0.05,"DOS":1.4},{"series":"Mg","E":0.15,"DOS":0.6},{"series":"Mg","E":0.3,"DOS":0.3},{"series":"Mg","E":0.5,"DOS":0.45},{"series":"Mg","E":0.7,"DOS":0.3},{"series":"Mg","E":0.9,"DOS":0.5},{"series":"Mg","E":1.1,"DOS":0.85},{"series":"Mg","E":1.25,"DOS":1.2},{"series":"Mg","E":1.35,"DOS":0.75},{"series":"Mg","E":1.5,"DOS":0.5},{"series":"Mg","E":1.7,"DOS":0.1},{"series":"Mg","E":1.85,"DOS":0.05},{"series":"Mg","E":2.05,"DOS":1.3},{"series":"Mg","E":2.2,"DOS":1.1},{"series":"Mg","E":2.4,"DOS":1.15},{"series":"Mg","E":2.6,"DOS":1.0},{"series":"Mg","E":2.8,"DOS":0.8},{"series":"Mg","E":3.0,"DOS":0.55},{"series":"Mg","E":3.2,"DOS":0.8},{"series":"Mg","E":3.4,"DOS":0.65},{"series":"Mg","E":3.6,"DOS":0.7},{"series":"Mg","E":3.8,"DOS":0.55},{"series":"Mg","E":3.95,"DOS":0.95},{"series":"Mg","E":4.1,"DOS":1.2},{"series":"Mg","E":4.3,"DOS":1.1},{"series":"Mg","E":4.5,"DOS":1.3},{"series":"Mg","E":4.65,"DOS":1.68},{"series":"Mg","E":4.8,"DOS":1.4},{"series":"Mg","E":5.0,"DOS":0.95},{"series":"Mg","E":5.2,"DOS":1.05},{"series":"Mg","E":5.4,"DOS":1.05},{"series":"Mg","E":5.6,"DOS":1.15},{"series":"Mg","E":5.75,"DOS":1.45},{"series":"Mg","E":5.9,"DOS":1.2},{"series":"Mg","E":6.05,"DOS":1.55},{"series":"Mg","E":6.2,"DOS":1.3},{"series":"Mg","E":6.35,"DOS":1.0},{"series":"Mg","E":6.5,"DOS":1.2},{"series":"Mg","E":6.65,"DOS":1.65},{"series":"Mg","E":6.8,"DOS":1.25},{"series":"Mg","E":6.95,"DOS":1.5},{"series":"Mg","E":7.1,"DOS":1.1},{"series":"Mg","E":7.25,"DOS":1.7},{"series":"Mg","E":7.4,"DOS":1.3},{"series":"Mg","E":7.55,"DOS":1.4},{"series":"Mg","E":7.7,"DOS":1.25},{"series":"Mg","E":7.9,"DOS":1.6},{"series":"Mg","E":8.1,"DOS":1.45},{"series":"Mg","E":8.3,"DOS":1.4},{"series":"Mg","E":8.5,"DOS":1.35},{"series":"Mg","E":8.7,"DOS":1.5},{"series":"Mg","E":8.9,"DOS":1.45},{"series":"Mg","E":9.1,"DOS":1.75},{"series":"Mg","E":9.3,"DOS":1.45},{"series":"Mg","E":9.5,"DOS":1.35},{"series":"Mg","E":9.7,"DOS":1.2},{"series":"Mg","E":9.9,"DOS":1.15},{"series":"Mg","E":10,"DOS":1.2}
    ],
    "labels": [
      {"panel":"a","E":-8.9,"DOS":13.05,"text":"Mg₇Ti"},
      {"panel":"b","E":-9.35,"DOS":13.1,"text":"Mg₆TiAl"},
      {"panel":"c","E":-6.6,"DOS":13.07,"text":"Mg₆TiZn"}
    ],
    "fermi": [{"E":0}]
  },
  "vconcat": [
    {
      "width": 534, "height": 393,
      "title": {"text": "a", "anchor": "end", "frame": "group", "font": "Liberation Serif", "fontSize": 26, "fontStyle": "italic", "fontWeight": "normal", "color": "black", "offset": -6},
      "layer": [
        {
          "data": {"name": "a"},
          "transform": [{"filter": "datum.series === 'Total' || datum.series === 'Ti'"}],
          "mark": {"type": "line", "clip": true, "color": "black"},
          "encoding": {
            "x": {"field": "E", "type": "quantitative", "scale": {"domain": [-10, 10], "nice": false, "zero": false},
              "axis": {"orient": "bottom", "values": [-10,-5,0,5,10], "tickSize": 10, "offset": -10, "labelPadding": 6, "labelFontSize": 25, "labelOverlap": false, "labelFlush": false, "title": "E, eV", "titleFontSize": 25, "titleFontWeight": "normal", "titlePadding": 2}},
            "y": {"field": "DOS", "type": "quantitative", "scale": {"domain": [0, 15], "nice": false},
              "axis": {"orient": "left", "values": [0,5,10,15], "tickSize": 10, "offset": -10, "labelPadding": 6, "labelFontSize": 25, "labelOverlap": false, "labelFlush": false, "title": "DOS, states/eV", "titleFontSize": 25, "titleFontWeight": "normal", "titlePadding": 23}},
            "strokeDash": {"field": "series", "type": "nominal", "scale": {"domain": ["Total", "Ti", "Mg1", "Mg2"], "range": [[1, 0], [1, 0], [1.5, 1.5], [4, 3]]},
              "legend": {"orient": "none", "legendX": 414, "legendY": 16, "title": null, "symbolType": "stroke", "symbolSize": 2809, "symbolStrokeColor": "black", "labelFontSize": 25, "labelOffset": 17, "rowPadding": 2, "padding": 0,
                "encode": {"symbols": {"update": {"strokeWidth": {"signal": "datum.value === 'Total' ? 2.6 : 1.2"}, "stroke": {"value": "black"}}}}}},
            "strokeWidth": {"condition": {"test": "datum.series === 'Total'", "value": 2.4}, "value": 1.1}
          }
        },
        {
          "data": {"name": "a"},
          "transform": [{"filter": "datum.series === 'Mg1' || datum.series === 'Mg2'"}],
          "mark": {"type": "line", "clip": true, "color": "black", "strokeWidth": 1.1},
          "encoding": {
            "x": {"field": "E", "type": "quantitative",
              "axis": {"orient": "bottom", "values": [-10,-9,-8,-7,-6,-5,-4,-3,-2,-1,0,1,2,3,4,5,6,7,8,9,10], "tickSize": 6, "offset": -6, "labels": false, "title": null}},
            "y": {"field": "DOS", "type": "quantitative",
              "axis": {"orient": "left", "values": [0,1,2,3,4,5,6,7,8,9,10,11,12,13,14,15], "tickSize": 6, "offset": -6, "labels": false, "title": null}},
            "strokeDash": {"field": "series", "type": "nominal", "scale": {"domain": ["Total", "Ti", "Mg1", "Mg2"], "range": [[1, 0], [1, 0], [1.5, 1.5], [4, 3]]},
              "legend": {"orient": "none", "legendX": 414, "legendY": 16, "title": null, "symbolType": "stroke", "symbolSize": 2809, "symbolStrokeColor": "black", "labelFontSize": 25, "labelOffset": 17, "rowPadding": 2, "padding": 0,
                "encode": {"symbols": {"update": {"strokeWidth": {"signal": "datum.value === 'Total' ? 2.6 : 1.2"}, "stroke": {"value": "black"}}}}}}
          }
        },
        {
          "data": {"name": "a"},
          "transform": [{"filter": "datum.series === 'extra'"}],
          "mark": {"type": "line", "clip": true, "color": "black", "strokeWidth": 1.1},
          "encoding": {
            "x": {"field": "E", "type": "quantitative",
              "axis": {"orient": "top", "values": [-10,-9,-8,-7,-6,-5,-4,-3,-2,-1,0,1,2,3,4,5,6,7,8,9,10], "tickSize": 6, "offset": -6, "labels": false, "title": null}},
            "y": {"field": "DOS", "type": "quantitative",
              "axis": {"orient": "right", "values": [0,1,2,3,4,5,6,7,8,9,10,11,12,13,14,15], "tickSize": 6, "offset": -6, "labels": false, "title": null}}
          }
        },
        {
          "data": {"name": "fermi"},
          "mark": {"type": "rule", "color": "black", "strokeWidth": 1.1, "strokeDash": [6, 4]},
          "encoding": {"x": {"field": "E", "type": "quantitative", "axis": null}}
        },
        {
          "data": {"name": "labels"},
          "transform": [{"filter": "datum.panel === 'a'"}],
          "mark": {"type": "text", "align": "left", "baseline": "alphabetic", "font": "Liberation Serif", "fontSize": 25, "color": "black"},
          "encoding": {
            "x": {"field": "E", "type": "quantitative",
              "axis": {"orient": "top", "values": [-10,-5,0,5,10], "tickSize": 10, "offset": -10, "labels": false, "title": null}},
            "y": {"field": "DOS", "type": "quantitative",
              "axis": {"orient": "right", "values": [0,5,10,15], "tickSize": 10, "offset": -10, "labels": false, "title": null}},
            "text": {"field": "text"}
          }
        }
      ],
      "resolve": {"axis": {"x": "independent", "y": "independent"}}
    },
    {
      "width": 534, "height": 393,
      "title": {"text": "b", "anchor": "end", "frame": "group", "font": "Liberation Serif", "fontSize": 26, "fontStyle": "italic", "fontWeight": "normal", "color": "black", "offset": -6},
      "layer": [
        {
          "data": {"name": "b"},
          "transform": [{"filter": "datum.series === 'Total' || datum.series === 'Ti'"}],
          "mark": {"type": "line", "clip": true, "color": "black"},
          "encoding": {
            "x": {"field": "E", "type": "quantitative", "scale": {"domain": [-10, 10], "nice": false, "zero": false},
              "axis": {"orient": "bottom", "values": [-10,-5,0,5,10], "tickSize": 10, "offset": -10, "labelPadding": 6, "labelFontSize": 25, "labelOverlap": false, "labelFlush": false, "title": "E, eV", "titleFontSize": 25, "titleFontWeight": "normal", "titlePadding": 2}},
            "y": {"field": "DOS", "type": "quantitative", "scale": {"domain": [0, 15], "nice": false},
              "axis": {"orient": "left", "values": [0,5,10,15], "tickSize": 10, "offset": -10, "labelPadding": 6, "labelFontSize": 25, "labelOverlap": false, "labelFlush": false, "title": "DOS, states/eV", "titleFontSize": 25, "titleFontWeight": "normal", "titlePadding": 23}},
            "strokeDash": {"field": "series", "type": "nominal", "scale": {"domain": ["Total", "Ti", "Al", "Mg"], "range": [[1, 0], [1, 0], [1.5, 1.5], [4, 3]]},
              "legend": {"orient": "none", "legendX": 414, "legendY": 18, "title": null, "symbolType": "stroke", "symbolSize": 2809, "symbolStrokeColor": "black", "labelFontSize": 25, "labelOffset": 17, "rowPadding": 1, "padding": 0,
                "encode": {"symbols": {"update": {"strokeWidth": {"signal": "datum.value === 'Total' ? 2.6 : 1.2"}, "stroke": {"value": "black"}}}}}},
            "strokeWidth": {"condition": {"test": "datum.series === 'Total'", "value": 2.4}, "value": 1.1}
          }
        },
        {
          "data": {"name": "b"},
          "transform": [{"filter": "datum.series === 'Al' || datum.series === 'Mg'"}],
          "mark": {"type": "line", "clip": true, "color": "black", "strokeWidth": 1.1},
          "encoding": {
            "x": {"field": "E", "type": "quantitative",
              "axis": {"orient": "bottom", "values": [-10,-9,-8,-7,-6,-5,-4,-3,-2,-1,0,1,2,3,4,5,6,7,8,9,10], "tickSize": 6, "offset": -6, "labels": false, "title": null}},
            "y": {"field": "DOS", "type": "quantitative",
              "axis": {"orient": "left", "values": [0,1,2,3,4,5,6,7,8,9,10,11,12,13,14,15], "tickSize": 6, "offset": -6, "labels": false, "title": null}},
            "strokeDash": {"field": "series", "type": "nominal", "scale": {"domain": ["Total", "Ti", "Al", "Mg"], "range": [[1, 0], [1, 0], [1.5, 1.5], [4, 3]]},
              "legend": {"orient": "none", "legendX": 414, "legendY": 18, "title": null, "symbolType": "stroke", "symbolSize": 2809, "symbolStrokeColor": "black", "labelFontSize": 25, "labelOffset": 17, "rowPadding": 1, "padding": 0,
                "encode": {"symbols": {"update": {"strokeWidth": {"signal": "datum.value === 'Total' ? 2.6 : 1.2"}, "stroke": {"value": "black"}}}}}}
          }
        },
        {
          "data": {"name": "b"},
          "transform": [{"filter": "datum.series === 'extra'"}],
          "mark": {"type": "line", "clip": true, "color": "black", "strokeWidth": 1.1},
          "encoding": {
            "x": {"field": "E", "type": "quantitative",
              "axis": {"orient": "top", "values": [-10,-9,-8,-7,-6,-5,-4,-3,-2,-1,0,1,2,3,4,5,6,7,8,9,10], "tickSize": 6, "offset": -6, "labels": false, "title": null}},
            "y": {"field": "DOS", "type": "quantitative",
              "axis": {"orient": "right", "values": [0,1,2,3,4,5,6,7,8,9,10,11,12,13,14,15], "tickSize": 6, "offset": -6, "labels": false, "title": null}}
          }
        },
        {
          "data": {"name": "fermi"},
          "mark": {"type": "rule", "color": "black", "strokeWidth": 1.1, "strokeDash": [6, 4]},
          "encoding": {"x": {"field": "E", "type": "quantitative", "axis": null}}
        },
        {
          "data": {"name": "labels"},
          "transform": [{"filter": "datum.panel === 'b'"}],
          "mark": {"type": "text", "align": "left", "baseline": "alphabetic", "font": "Liberation Serif", "fontSize": 25, "color": "black"},
          "encoding": {
            "x": {"field": "E", "type": "quantitative",
              "axis": {"orient": "top", "values": [-10,-5,0,5,10], "tickSize": 10, "offset": -10, "labels": false, "title": null}},
            "y": {"field": "DOS", "type": "quantitative",
              "axis": {"orient": "right", "values": [0,5,10,15], "tickSize": 10, "offset": -10, "labels": false, "title": null}},
            "text": {"field": "text"}
          }
        }
      ],
      "resolve": {"axis": {"x": "independent", "y": "independent"}}
    },
    {
      "width": 534, "height": 393,
      "title": {"text": "c", "anchor": "end", "frame": "group", "font": "Liberation Serif", "fontSize": 26, "fontStyle": "italic", "fontWeight": "normal", "color": "black", "offset": -6},
      "layer": [
        {
          "data": {"name": "c"},
          "transform": [{"filter": "datum.series === 'Total' || datum.series === 'Ti'"}],
          "mark": {"type": "line", "clip": true, "color": "black"},
          "encoding": {
            "x": {"field": "E", "type": "quantitative", "scale": {"domain": [-10, 10], "nice": false, "zero": false},
              "axis": {"orient": "bottom", "values": [-10,-5,0,5,10], "tickSize": 10, "offset": -10, "labelPadding": 6, "labelFontSize": 25, "labelOverlap": false, "labelFlush": false, "title": "E, eV", "titleFontSize": 25, "titleFontWeight": "normal", "titlePadding": 2}},
            "y": {"field": "DOS", "type": "quantitative", "scale": {"domain": [0, 15], "nice": false},
              "axis": {"orient": "left", "values": [0,5,10,15], "tickSize": 10, "offset": -10, "labelPadding": 6, "labelFontSize": 25, "labelOverlap": false, "labelFlush": false, "title": "DOS, states/eV", "titleFontSize": 25, "titleFontWeight": "normal", "titlePadding": 23}},
            "strokeDash": {"field": "series", "type": "nominal", "scale": {"domain": ["Total", "Ti", "Zn", "Mg"], "range": [[1, 0], [1, 0], [1.5, 1.5], [4, 3]]},
              "legend": {"orient": "none", "legendX": 399, "legendY": 21, "title": null, "symbolType": "stroke", "symbolSize": 2809, "symbolStrokeColor": "black", "labelFontSize": 25, "labelOffset": 34, "rowPadding": 0, "padding": 0,
                "encode": {"symbols": {"update": {"strokeWidth": {"signal": "datum.value === 'Total' ? 2.6 : 1.2"}, "stroke": {"value": "black"}}}}}},
            "strokeWidth": {"condition": {"test": "datum.series === 'Total'", "value": 2.4}, "value": 1.1}
          }
        },
        {
          "data": {"name": "c"},
          "transform": [{"filter": "datum.series === 'Zn'"}],
          "mark": {"type": "line", "clip": true, "color": "black", "strokeWidth": 1.1},
          "encoding": {
            "x": {"field": "E", "type": "quantitative",
              "axis": {"orient": "bottom", "values": [-10,-9,-8,-7,-6,-5,-4,-3,-2,-1,0,1,2,3,4,5,6,7,8,9,10], "tickSize": 6, "offset": -6, "labels": false, "title": null}},
            "y": {"field": "DOS", "type": "quantitative",
              "axis": {"orient": "left", "values": [0,1,2,3,4,5,6,7,8,9,10,11,12,13,14,15], "tickSize": 6, "offset": -6, "labels": false, "title": null}},
            "strokeDash": {"field": "series", "type": "nominal", "scale": {"domain": ["Total", "Ti", "Zn", "Mg"], "range": [[1, 0], [1, 0], [1.5, 1.5], [4, 3]]},
              "legend": {"orient": "none", "legendX": 399, "legendY": 21, "title": null, "symbolType": "stroke", "symbolSize": 2809, "symbolStrokeColor": "black", "labelFontSize": 25, "labelOffset": 34, "rowPadding": 0, "padding": 0,
                "encode": {"symbols": {"update": {"strokeWidth": {"signal": "datum.value === 'Total' ? 2.6 : 1.2"}, "stroke": {"value": "black"}}}}}}
          }
        },
        {
          "data": {"name": "c"},
          "transform": [{"filter": "datum.series === 'Mg'"}],
          "mark": {"type": "line", "clip": true, "color": "black", "strokeWidth": 1.1},
          "encoding": {
            "x": {"field": "E", "type": "quantitative",
              "axis": {"orient": "top", "values": [-10,-9,-8,-7,-6,-5,-4,-3,-2,-1,0,1,2,3,4,5,6,7,8,9,10], "tickSize": 6, "offset": -6, "labels": false, "title": null}},
            "y": {"field": "DOS", "type": "quantitative",
              "axis": {"orient": "right", "values": [0,1,2,3,4,5,6,7,8,9,10,11,12,13,14,15], "tickSize": 6, "offset": -6, "labels": false, "title": null}},
            "strokeDash": {"field": "series", "type": "nominal", "scale": {"domain": ["Total", "Ti", "Zn", "Mg"], "range": [[1, 0], [1, 0], [1.5, 1.5], [4, 3]]},
              "legend": {"orient": "none", "legendX": 399, "legendY": 21, "title": null, "symbolType": "stroke", "symbolSize": 2809, "symbolStrokeColor": "black", "labelFontSize": 25, "labelOffset": 34, "rowPadding": 0, "padding": 0,
                "encode": {"symbols": {"update": {"strokeWidth": {"signal": "datum.value === 'Total' ? 2.6 : 1.2"}, "stroke": {"value": "black"}}}}}}
          }
        },
        {
          "data": {"name": "fermi"},
          "mark": {"type": "rule", "color": "black", "strokeWidth": 1.1, "strokeDash": [6, 4]},
          "encoding": {"x": {"field": "E", "type": "quantitative", "axis": null}}
        },
        {
          "data": {"name": "labels"},
          "transform": [{"filter": "datum.panel === 'c'"}],
          "mark": {"type": "text", "align": "left", "baseline": "alphabetic", "font": "Liberation Serif", "fontSize": 25, "color": "black"},
          "encoding": {
            "x": {"field": "E", "type": "quantitative",
              "axis": {"orient": "top", "values": [-10,-5,0,5,10], "tickSize": 10, "offset": -10, "labels": false, "title": null}},
            "y": {"field": "DOS", "type": "quantitative",
              "axis": {"orient": "right", "values": [0,5,10,15], "tickSize": 10, "offset": -10, "labels": false, "title": null}},
            "text": {"field": "text"}
          }
        }
      ],
      "resolve": {"axis": {"x": "independent", "y": "independent"}}
    }
  ]
}
